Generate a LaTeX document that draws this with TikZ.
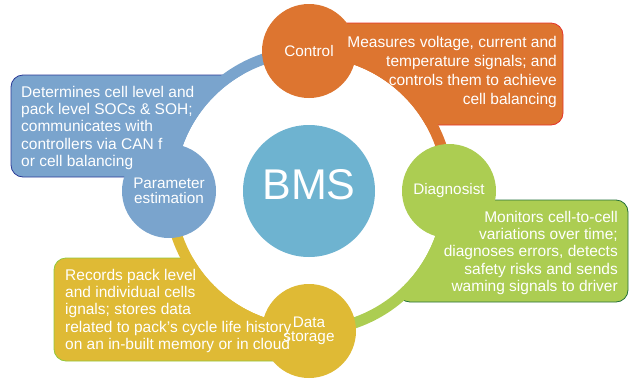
\documentclass[tikz,border=0pt]{standalone}
\usepackage{fontspec}
\setmainfont{Liberation Sans}
\definecolor{ctrlorange}{RGB}{221,117,48}
\definecolor{ctrlred}{RGB}{229,52,43}
\definecolor{diaggreen}{RGB}{172,205,82}
\definecolor{diagdark}{RGB}{36,112,56}
\definecolor{storeyellow}{RGB}{223,186,53}
\definecolor{storelime}{RGB}{146,200,60}
\definecolor{parblue}{RGB}{122,164,205}
\definecolor{parnavy}{RGB}{42,58,150}
\definecolor{bmsblue}{RGB}{110,179,208}

\begin{document}
\begin{tikzpicture}
[
    x=1pt, y=-1pt,
    ring/.style={line width=11pt},
    callout/.style={rounded corners=12pt, line width=0.8pt},
    stage/.style={circle, minimum size=94pt, inner sep=0pt, text=white,
        align=center, font=\fontsize{15.3pt}{14.5pt}\selectfont},
    note/.style={inner sep=0pt, text=white, font=\fontsize{15.5pt}{17.2pt}\selectfont},
]
\useasboundingbox (0,0) rectangle (630,381);
\coordinate (hub) at (309,191);
\filldraw[callout, fill=parblue, draw=parnavy] (11,75) rectangle (255,177);
\filldraw[callout, fill=ctrlorange, draw=ctrlred] (330,23) rectangle (563,125);
\filldraw[callout, fill=diaggreen, draw=diagdark] (398,200) rectangle (628,302);
\filldraw[callout, fill=storeyellow, draw=storelime] (54,258) rectangle (300,361);
\fill[white] (hub) circle[radius=134pt];
\begin{scope}
    \clip (hub) rectangle (630,0);
    \draw[ring, ctrlorange] (hub) circle[radius=139.5pt];
\end{scope}
\begin{scope}
    \clip (hub) rectangle (630,381);
    \draw[ring, diaggreen] (hub) circle[radius=139.5pt];
\end{scope}
\begin{scope}
    \clip (hub) rectangle (0,381);
    \draw[ring, storeyellow] (hub) circle[radius=139.5pt];
\end{scope}
\begin{scope}
    \clip (hub) rectangle (0,0);
    \draw[ring, parblue] (hub) circle[radius=139.5pt];
\end{scope}
\node[circle, fill=bmsblue, minimum size=132pt, inner sep=0pt] (bms) at (hub) {};
\node[text=white, font=\fontsize{43pt}{43pt}\selectfont] (bmslabel) at (309,185) {BMS};
\node[stage, fill=ctrlorange] (ctrl) at (309,51) {Control};
\node[stage, fill=diaggreen] (diag) at (449,191) {Diagnosist};
\node[stage, fill=storeyellow] (store) at (309,331) {Data\\storage};
\node[stage, fill=parblue] (param) at (169,191) {Parameter\\estimation};
\node[note, anchor=north west, align=left] (partxt) at (21,86)
    {Determines cell level and\\pack level SOCs \& SOH;\\communicates with\\controllers via CAN f\\or cell balancing};
\node[note, anchor=north east, align=right, font=\fontsize{15.5pt}{18.9pt}\selectfont] (ctrltxt) at (557,36)
    {Measures voltage, current and\\temperature signals; and\\controls them to achieve\\cell balancing};
\node[note, anchor=north east, align=right] (diagtxt) at (618,211)
    {Monitors cell-to-cell\\variations over time;\\diagnoses errors, detects\\safety risks and sends\\waming signals to driver};
\node[note, anchor=north west, align=left] (storetxt) at (65,269)
    {Records pack level\\and individual cells\\ignals; stores data\\related to pack's cycle life history\\on an in-built memory or in cloud};
\end{tikzpicture}
\end{document}
